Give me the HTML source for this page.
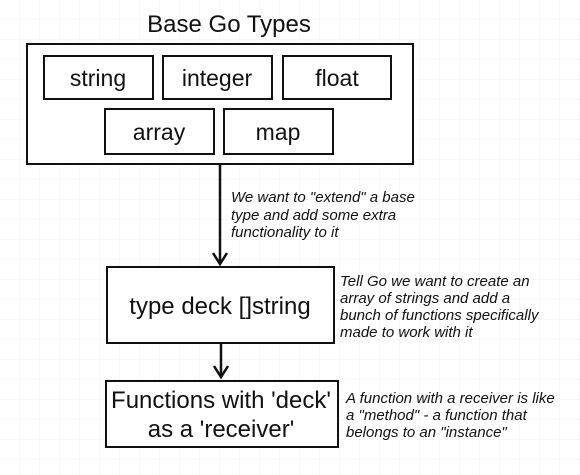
<!DOCTYPE html>
<html><head><meta charset="utf-8"><style>
body{margin:0;width:580px;height:475px;background:#fff;overflow:hidden;}
svg{display:block}
.t{font-family:"Liberation Sans",sans-serif;fill:#111;}
.i{font-family:"Liberation Sans",sans-serif;font-style:italic;font-size:15px;fill:#111;}
</style></head><body>
<svg width="580" height="475" viewBox="0 0 580 475">
<defs><pattern id="g" width="20" height="20" patternUnits="userSpaceOnUse"><path d="M20 0V20H0" fill="none" stroke="#f0f0f0" stroke-width="1"/></pattern></defs>
<rect width="580" height="475" fill="url(#g)"/>
<text class="t" x="229" y="32" font-size="24" text-anchor="middle">Base Go Types</text>
<g fill="#fff" stroke="#111" stroke-width="2">
<rect x="27" y="44" width="386" height="120"/>
<rect x="44" y="56" width="109" height="43"/>
<rect x="163" y="56" width="109" height="43"/>
<rect x="283" y="56" width="108" height="43"/>
<rect x="105" y="109" width="109" height="45"/>
<rect x="224" y="109" width="109" height="45"/>
<rect x="107" y="267" width="227" height="76"/>
<rect x="106" y="381" width="232" height="66"/>
</g>
<g class="t" font-size="23" text-anchor="middle">
<text x="98" y="86">string</text>
<text x="217" y="86">integer</text>
<text x="337" y="86">float</text>
<text x="159" y="140">array</text>
<text x="278" y="140">map</text>
<text x="220" y="314" font-size="24">type deck []string</text>
<text x="221" y="408" font-size="24">Functions with 'deck'</text>
<text x="221" y="437" font-size="24">as a 'receiver'</text>
</g>
<g stroke="#111" stroke-width="2.5" fill="none">
<line x1="220" y1="164" x2="220" y2="262"/>
<line x1="221" y1="343" x2="221" y2="375"/>
<polyline points="213,253 220,264 227,253"/>
<polyline points="214,366 221,377 228,366"/>
</g>
<text class="i" x="231" y="202">We want to "extend" a base</text>
<text class="i" x="231" y="220">type and add some extra</text>
<text class="i" x="231" y="237">functionality to it</text>
<text class="i" x="340" y="286">Tell Go we want to create an</text>
<text class="i" x="340" y="303">array of strings and add a</text>
<text class="i" x="340" y="320">bunch of functions specifically</text>
<text class="i" x="340" y="337">made to work with it</text>
<text class="i" x="346" y="403">A function with a receiver is like</text>
<text class="i" x="346" y="420">a "method" - a function that</text>
<text class="i" x="346" y="437">belongs to an "instance"</text>
</svg>
</body></html>
